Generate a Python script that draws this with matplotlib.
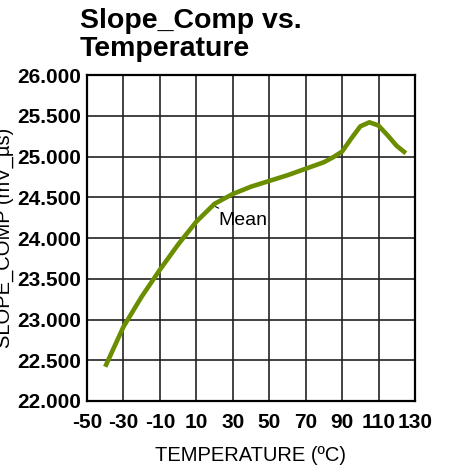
import matplotlib
matplotlib.use("Agg")
import matplotlib.pyplot as plt

plt.rcParams["font.family"] = ["Liberation Sans", "DejaVu Sans"]
plt.rcParams["axes.unicode_minus"] = False

# mean slope_comp vs temperature
temp = [-40, -30, -20, -10, 0, 10, 20, 30, 40, 50, 60, 70, 80, 85, 90, 95,
        100, 105, 110, 115, 120, 125]
slope = [22.42, 22.91, 23.28, 23.61, 23.92, 24.20, 24.42, 24.54, 24.63, 24.70,
         24.77, 24.85, 24.93, 24.99, 25.06, 25.22, 25.37, 25.42, 25.38, 25.26,
         25.13, 25.04]
xticks = [-50, -30, -10, 10, 30, 50, 70, 90, 110, 130]
yticks = [22.0, 22.5, 23.0, 23.5, 24.0, 24.5, 25.0, 25.5, 26.0]

fig = plt.figure(figsize=(4.54, 4.66), dpi=100)
ax = fig.add_axes([0.1916, 0.1395, 0.7224, 0.6995])

ax.plot(temp, slope, color="#6b8e00", lw=3.3, solid_capstyle="butt")

ax.set_xlim(-50, 130)
ax.set_ylim(22, 26)
ax.set_xticks(xticks)
ax.set_yticks(yticks)
ax.set_yticklabels([f"{v:.3f}" for v in yticks])
ax.tick_params(length=0, labelsize=15)
ax.tick_params(axis="x", pad=9)
ax.tick_params(axis="y", pad=4)
for lab in ax.get_xticklabels() + ax.get_yticklabels():
    lab.set_fontweight("bold")

ax.grid(True, color="#222222", lw=1.2)
ax.set_axisbelow(True)
for s in ax.spines.values():
    s.set_linewidth(1.6)
    s.set_color("black")

ax.annotate("Mean", xy=(19.2, 24.40), xytext=(22.0, 24.22),
            fontsize=14, ha="left", va="center",
            arrowprops=dict(arrowstyle="-", color="black", lw=0.8,
                            shrinkA=1, shrinkB=2))

ax.set_xlabel("TEMPERATURE (ºC)", fontsize=14.5, labelpad=10)
fig.text(-0.012, 0.49, "SLOPE_COMP (mV_µs)", rotation=90, fontsize=14.5,
         ha="left", va="center")

fig.text(80 / 454, 1 - 8 / 466, "Slope_Comp vs.\nTemperature", fontsize=20.5,
         fontweight="bold", ha="left", va="top", linespacing=1.1)

fig.savefig("out.png", dpi=100)
